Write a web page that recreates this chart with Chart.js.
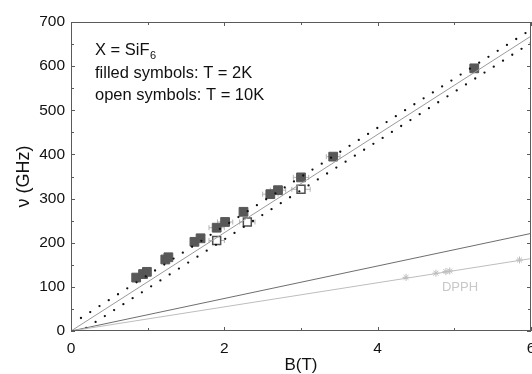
<!DOCTYPE html>
<html>
<head>
<meta charset="utf-8">
<script src="https://cdn.jsdelivr.net/npm/chart.js@4"></script>
<style>
  html, body { margin: 0; padding: 0; background: #fff; }
  canvas { display: block; }
</style>
</head>
<body>
<canvas id="c" width="532" height="374"></canvas>
<script>
// SiF6 resonance frequencies, T = 2K (filled squares)
const filledB   = [0.85, 0.94, 0.99, 1.23, 1.27, 1.61, 1.69, 1.90, 2.01, 2.25, 2.60, 2.70, 3.00, 3.42, 5.26];
const filledV   = [121, 129, 134, 162, 167, 202, 210, 234, 247, 270, 310, 319, 348, 395, 595];
const filledErr = [0, 0, 0, 0, 0, 0, 0, 0.10, 0.10, 0, 0.10, 0.10, 0.10, 0.09, 0];

// SiF6 resonance frequencies, T = 10K (open squares)
const openB   = [1.90, 2.30, 3.00];
const openV   = [205, 247, 321];
const openErr = [0.10, 0.10, 0.12];

// DPPH reference marker
const dpphB = [4.37, 4.76, 4.89, 4.94, 5.85];
const dpphV = [121.5, 131, 134.5, 136, 161];

// Straight lines (end points)
const fitB = [0, 6],      fitV = [0, 668];
const upperB = [0.13, 6], upperV = [29.5, 683];
const lowerB = [0.20, 6], lowerV = [7, 653];
const refB = [0, 6],      refV = [0, 221];
const dpphFitB = [0, 6],  dpphFitV = [0, 164];

// Axis tick labels
const xTicks = [0, 2, 4, 6];
const yTicks = [0, 100, 200, 300, 400, 500, 600, 700];

const FONT = '"Liberation Sans", Arial, sans-serif';
const pts = (xs, ys) => xs.map((x, i) => ({ x: x, y: ys[i] }));

// Horizontal field error bars
const errorBars = {
  id: 'errorBars',
  beforeDatasetsDraw(chart) {
    const { ctx, scales: { x, y } } = chart;
    ctx.save();
    ctx.strokeStyle = '#b4b4b4';
    ctx.lineWidth = 1;
    const draw = (bs, vs, es) => bs.forEach((b, i) => {
      if (!es[i]) return;
      const x0 = x.getPixelForValue(b - es[i]);
      const x1 = x.getPixelForValue(b + es[i]);
      const py = y.getPixelForValue(vs[i]);
      ctx.beginPath();
      ctx.moveTo(x0, py); ctx.lineTo(x1, py);
      ctx.moveTo(x0, py - 2.5); ctx.lineTo(x0, py + 2.5);
      ctx.moveTo(x1, py - 2.5); ctx.lineTo(x1, py + 2.5);
      ctx.stroke();
    });
    draw(filledB, filledV, filledErr);
    draw(openB, openV, openErr);
    ctx.restore();
  }
};

// Box frame with inward ticks on all four sides, plus text notes
const frameAndNotes = {
  id: 'frameAndNotes',
  afterDraw(chart) {
    const { ctx, chartArea: a, scales: { x, y } } = chart;
    ctx.save();
    ctx.strokeStyle = '#5a5a5a';
    ctx.lineWidth = 1;
    ctx.strokeRect(a.left + 0.5, a.top + 0.5, a.right - a.left - 1, a.bottom - a.top - 1);
    ctx.beginPath();
    for (let b = x.min; b <= x.max; b += 1) {
      const len = (b % 2 === 0) ? 4 : 3;
      const px = Math.round(x.getPixelForValue(b)) + 0.5;
      ctx.moveTo(px, a.bottom); ctx.lineTo(px, a.bottom - len);
      ctx.moveTo(px, a.top); ctx.lineTo(px, a.top + len);
    }
    for (let v = y.min; v <= y.max; v += 50) {
      const len = (v % 100 === 0) ? 4 : 3;
      const py = Math.round(y.getPixelForValue(v)) + 0.5;
      ctx.moveTo(a.left, py); ctx.lineTo(a.left + len, py);
      ctx.moveTo(a.right, py); ctx.lineTo(a.right - len, py);
    }
    ctx.stroke();

    // sample notes
    ctx.fillStyle = '#111';
    ctx.textBaseline = 'alphabetic';
    ctx.textAlign = 'left';
    ctx.font = '16.5px ' + FONT;
    const lead = 'X = SiF';
    ctx.fillText(lead, 95, 55);
    const w = ctx.measureText(lead).width;
    ctx.font = '11px ' + FONT;
    ctx.fillText('6', 95 + w + 0.5, 59);
    ctx.font = '16.5px ' + FONT;
    ctx.fillText('filled symbols: T = 2K', 95, 77.5);
    ctx.fillText('open symbols: T = 10K', 95, 100);

    ctx.fillStyle = '#c8c8c8';
    ctx.font = '13px ' + FONT;
    ctx.textAlign = 'center';
    ctx.textBaseline = 'middle';
    ctx.fillText('DPPH', 460, 287);
    ctx.restore();
  }
};

const lineDs = (xs, ys, color, extra) => Object.assign({
  data: pts(xs, ys), showLine: true, pointRadius: 0, borderColor: color,
  borderWidth: 1, fill: false
}, extra || {});

new Chart(document.getElementById('c'), {
  type: 'scatter',
  data: {
    datasets: [
      lineDs(dpphFitB, dpphFitV, '#bdbdbd'),
      lineDs(refB, refV, '#6e6e6e'),
      lineDs(upperB, upperV, '#111', { borderWidth: 2.3, borderDash: [0, 11], borderCapStyle: 'round' }),
      lineDs(lowerB, lowerV, '#111', { borderWidth: 2.3, borderDash: [0, 11], borderCapStyle: 'round' }),
      lineDs(fitB, fitV, '#9a9a9a'),
      {
        data: pts(dpphB, dpphV), pointStyle: 'star', pointRadius: 3.5,
        borderColor: '#bcbcbc', backgroundColor: '#bcbcbc', borderWidth: 1
      },
      {
        data: pts(openB, openV), pointStyle: 'rect', pointRadius: 5.6,
        backgroundColor: '#ffffff', borderColor: '#505050', borderWidth: 1.5
      },
      {
        data: pts(filledB, filledV), pointStyle: 'rect', pointRadius: 6.2,
        backgroundColor: '#585858', borderColor: '#585858', borderWidth: 1
      }
    ]
  },
  options: {
    responsive: false,
    animation: false,
    layout: { autoPadding: false, padding: { top: 22, right: 1, left: 0, bottom: 0 } },
    plugins: { legend: { display: false }, tooltip: { enabled: false } },
    scales: {
      x: {
        type: 'linear', min: 0, max: 6,
        afterFit(s) { s.height = 43; s.paddingLeft = 0; s.paddingRight = 0; },
        afterBuildTicks(s) { s.ticks = xTicks.map(v => ({ value: v })); },
        grid: { display: false, drawTicks: false },
        border: { display: false },
        ticks: { color: '#111', padding: 8, font: { family: FONT, size: 15.5 } },
        title: { display: true, text: 'B(T)', color: '#111', padding: { top: 0, bottom: 0 },
                 font: { family: FONT, size: 17, lineHeight: 1 } }
      },
      y: {
        type: 'linear', min: 0, max: 700,
        afterFit(s) { s.width = 71; s.paddingTop = 0; s.paddingBottom = 0; },
        afterBuildTicks(s) { s.ticks = yTicks.map(v => ({ value: v })); },
        grid: { display: false, drawTicks: false },
        border: { display: false },
        ticks: { color: '#111', padding: 6, font: { family: FONT, size: 15.5 } },
        title: { display: true, text: 'ν (GHz)', color: '#111', padding: { top: 15.5, bottom: 0 },
                 font: { family: FONT, size: 18, lineHeight: 1 } }
      }
    }
  },
  plugins: [errorBars, frameAndNotes]
});
</script>
</body>
</html>
